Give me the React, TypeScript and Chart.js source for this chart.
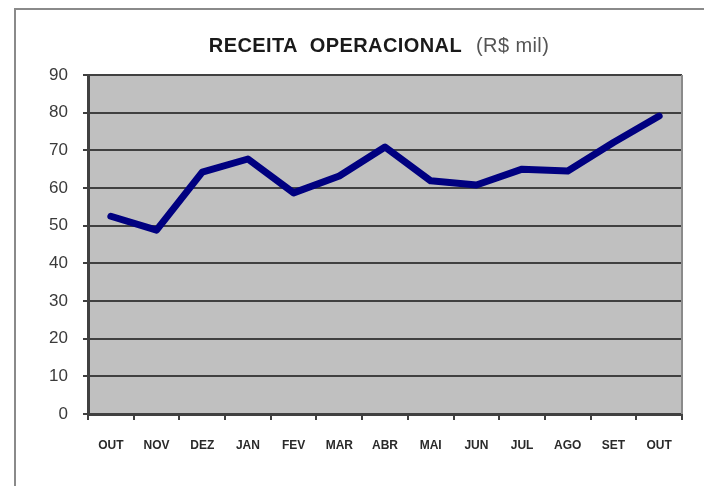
import React, { useEffect, useRef } from "react";
import { Chart, registerables } from "chart.js";

Chart.register(...registerables);

const months = ["OUT", "NOV", "DEZ", "JAN", "FEV", "MAR", "ABR", "MAI", "JUN", "JUL", "AGO", "SET", "OUT"];
const receita = [52.5, 48.8, 64.2, 67.7, 58.7, 63.2, 70.9, 61.9, 60.8, 65.0, 64.5, 72.1, 79.1];
const yTicks = [0, 10, 20, 30, 40, 50, 60, 70, 80, 90];
const titleMain = "RECEITA  OPERACIONAL";
const titleUnit = "(R$ mil)";

const FONT = "'Liberation Sans', Arial, sans-serif";

const plotBgPlugin = {
  id: "plotBg",
  beforeDraw(chart: any) {
    const { ctx, chartArea } = chart;
    ctx.save();
    ctx.fillStyle = "#c0c0c0";
    ctx.fillRect(chartArea.left, chartArea.top, chartArea.right - chartArea.left, chartArea.bottom - chartArea.top);
    ctx.restore();
  },
  beforeDatasetsDraw(chart: any) {
    const { ctx, chartArea } = chart;
    ctx.save();
    ctx.strokeStyle = "#8a8a8a";
    ctx.lineWidth = 2;
    ctx.beginPath();
    ctx.moveTo(chartArea.right, chartArea.top);
    ctx.lineTo(chartArea.right, chartArea.bottom);
    ctx.stroke();
    ctx.restore();
  },
};

const titlePlugin = {
  id: "twoPartTitle",
  afterDraw(chart: any) {
    const { ctx, chartArea } = chart;
    ctx.save();
    ctx.textBaseline = "middle";
    ctx.textAlign = "left";
    (ctx as any).letterSpacing = "0.4px";
    ctx.font = `bold 20px ${FONT}`;
    const w1 = ctx.measureText(titleMain).width;
    ctx.font = `20px ${FONT}`;
    const w2 = ctx.measureText(titleUnit).width;
    const gap = 14;
    const total = w1 + gap + w2;
    const cx = (chartArea.left + chartArea.right) / 2 - 6;
    const x0 = cx - total / 2;
    const y = 36;
    ctx.font = `bold 20px ${FONT}`;
    ctx.fillStyle = "#1a1a1a";
    ctx.fillText(titleMain, x0, y);
    ctx.font = `20px ${FONT}`;
    ctx.fillStyle = "#555555";
    ctx.fillText(titleUnit, x0 + w1 + gap, y);
    ctx.restore();
  },
};

export default function App() {
  const canvasRef = useRef<HTMLCanvasElement>(null);

  useEffect(() => {
    if (!canvasRef.current) return;
    const chart = new Chart(canvasRef.current, {
      type: "line",
      data: {
        labels: months,
        datasets: [
          {
            label: "Receita Operacional",
            data: receita,
            borderColor: "#000080",
            backgroundColor: "#000080",
            borderWidth: 7,
            pointRadius: 0,
            pointHoverRadius: 0,
            tension: 0,
            borderCapStyle: "round",
            borderJoinStyle: "round",
          },
        ],
      },
      options: {
        animation: false,
        responsive: false,
        maintainAspectRatio: false,
        layout: { padding: { left: 0, right: 22, top: 65, bottom: 0 } },
        plugins: {
          legend: { display: false },
          title: { display: false },
          tooltip: { enabled: false },
        },
        scales: {
          x: {
            type: "category",
            offset: true,
            grid: {
              offset: true,
              drawOnChartArea: false,
              drawTicks: true,
              tickLength: 6,
              color: "#404040",
              lineWidth: 2,
            },
            border: { display: true, color: "#404040", width: 3 },
            ticks: {
              color: "#2a2a2a",
              font: { family: FONT, size: 12, weight: "bold" },
              padding: 18,
              maxRotation: 0,
              autoSkip: false,
            },
            afterFit(scale: any) {
              scale.height = 72;
            },
          },
          y: {
            min: 0,
            max: 90,
            afterBuildTicks(scale: any) {
              scale.ticks = yTicks.map((v) => ({ value: v }));
            },
            grid: {
              color: "#404040",
              lineWidth: 2,
              drawTicks: true,
              tickLength: 5,
            },
            border: { display: true, color: "#404040", width: 3 },
            ticks: {
              color: "#3a3a3a",
              font: { family: FONT, size: 17 },
              padding: 15,
            },
            afterFit(scale: any) {
              scale.width = 72;
            },
          },
        },
      },
      plugins: [plotBgPlugin, titlePlugin],
    });
    return () => chart.destroy();
  }, []);

  return (
    <div
      style={{
        position: "absolute",
        left: 14,
        top: 8,
        width: 690,
        height: 478,
        borderLeft: "2px solid #8a8a8a",
        borderTop: "2px solid #8a8a8a",
        background: "#ffffff",
        overflow: "hidden",
      }}
    >
      <canvas ref={canvasRef} width={688} height={476} style={{ display: "block" }} />
    </div>
  );
}
